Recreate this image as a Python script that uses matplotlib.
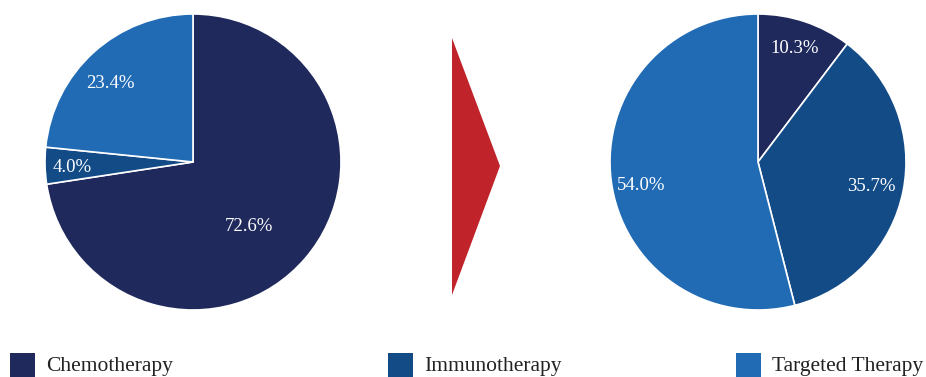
import numpy as np
import matplotlib
matplotlib.use("Agg")
import matplotlib.pyplot as plt
from matplotlib.patches import Polygon, Rectangle

categories = ["Chemotherapy", "Immunotherapy", "Targeted Therapy"]
before_values = [72.6, 4.0, 23.4]
after_values = [10.3, 35.7, 54.0]
colors = ["#1f295c", "#134b87", "#216bb5"]
arrow_color = "#c0242a"

plt.rcParams['font.family'] = ['Liberation Serif', 'DejaVu Serif']

W, H = 926, 377
fig = plt.figure(figsize=(W / 100, H / 100), dpi=100)
ax = fig.add_axes([0, 0, 1, 1])
ax.set_xlim(0, W)
ax.set_ylim(H, 0)
ax.set_aspect('equal')
ax.axis('off')

R = 148


def draw_pie(values, cx, cy, dists, dangs):
    # y axis is inverted, so counterclockwise in data = clockwise on screen
    wedges, _ = ax.pie(values, colors=colors, startangle=-90, counterclock=True,
                       center=(cx, cy), radius=R,
                       wedgeprops=dict(edgecolor='white', linewidth=1.2))
    for w, v, d, da in zip(wedges, values, dists, dangs):
        mid = np.deg2rad((w.theta1 + w.theta2) / 2 + da)
        x = cx + d * R * np.cos(mid)
        y = cy + d * R * np.sin(mid)
        ax.text(x, y, f"{v:.1f}%", color='white', fontsize=13.5,
                ha='center', va='center')
    return wedges


draw_pie(before_values, 193, 162, [0.577, 0.818, 0.77], [8.3, -1.4, -4.3])
draw_pie(after_values, 758, 162, [0.805, 0.781, 0.802], [-0.7, 0.9, -4.0])
ax.set_xlim(0, W)
ax.set_ylim(H, 0)

ax.add_patch(Polygon([[452, 38], [500, 166], [452, 295]], closed=True,
                     facecolor=arrow_color, edgecolor='none'))

legend_x = [10, 388, 736]
for lx, cat, col in zip(legend_x, categories, colors):
    ax.add_patch(Rectangle((lx, 353), 25, 24, facecolor=col, edgecolor='none'))
    ax.text(lx + 36, 366, cat, fontsize=15.5, color='#222222', ha='left', va='center')

fig.savefig("out.png", dpi=100)
